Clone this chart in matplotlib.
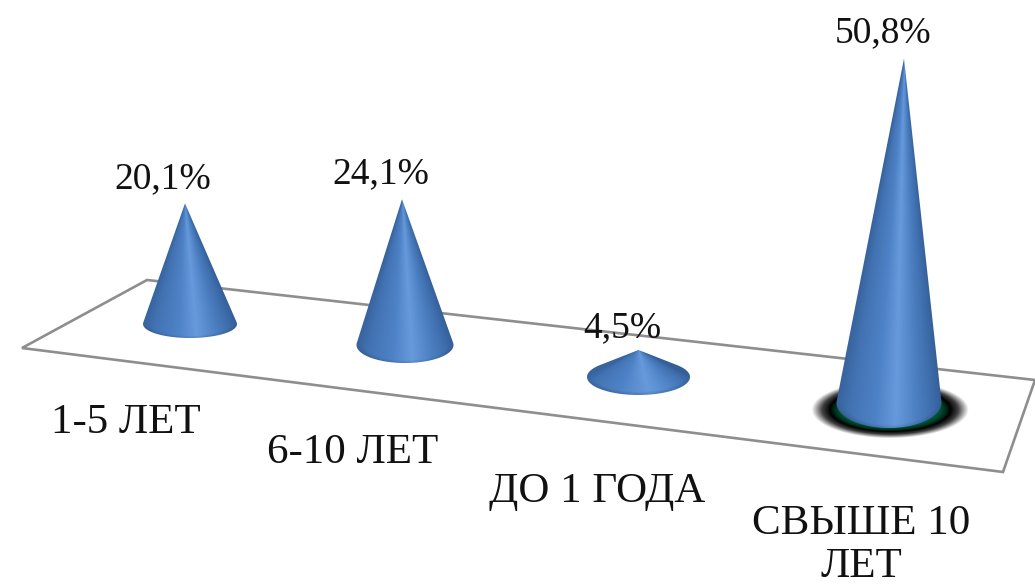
import matplotlib
matplotlib.use('Agg')
import matplotlib.pyplot as plt
from matplotlib.patches import Polygon, PathPatch
from matplotlib.path import Path
import numpy as np

plt.rcParams['font.family'] = ['Liberation Serif', 'DejaVu Serif']

# data
categories = ['1-5 ЛЕТ', '6-10 ЛЕТ', 'ДО 1 ГОДА', 'СВЫШЕ 10\nЛЕТ']
values = [20.1, 24.1, 4.5, 50.8]
value_labels = ['20,1%', '24,1%', '4,5%', '50,8%']

# layout in picture pixels
base_x = [190, 405, 638.5, 889]
base_y = [324, 345, 377, 403]
half_w = [47, 48.5, 51.5, 52.5]
half_h = [14, 18, 18, 25]
lean = [-5, -3, 0, 15]
px_per_unit = [6.0, 6.05, 6.0, 6.78]
label_xy = [(163, 179), (381, 174), (622, 328), (883, 33)]
cat_xy = [(126, 423), (353, 453), (597, 492), (861, 545)]
plane = [(147, 280), (22, 348), (1003, 472), (1035, 380)]

stops = [-1.0, -0.75, -0.25, 0.12, 0.5, 0.85, 1.0]
colors = np.array([[56, 100, 158], [66, 114, 178], [78, 130, 198], [102, 154, 220],
                   [76, 128, 194], [60, 106, 168], [52, 94, 150]]) / 255

fig = plt.figure(figsize=(10.35, 5.85), dpi=100)
ax = fig.add_axes([0, 0, 1, 1])
ax.axis('off')

ax.add_patch(Polygon(plane, closed=True, facecolor='white', edgecolor='#8e8e8e',
                     linewidth=1.9, zorder=1))


def draw_glow(cx, cy, a, b):
    xs = np.arange(cx - a * 1.2, cx + a * 1.2)
    ys = np.arange(cy - b * 1.2, cy + b * 1.2)
    X, Y = np.meshgrid(xs, ys)
    d = np.sqrt(((X - cx) / a) ** 2 + ((Y - cy) / b) ** 2)
    img = np.zeros(X.shape + (4,))
    img[..., 1] = np.interp(d, [0.66, 0.73, 0.8], [0.32, 0.2, 0])
    img[..., 2] = np.interp(d, [0.66, 0.73, 0.8], [0.2, 0.12, 0])
    img[..., 3] = np.interp(d, [0.8, 0.9, 1.04], [1, 0.75, 0])
    ax.imshow(img, extent=[xs[0], xs[-1], ys[-1], ys[0]], aspect='auto', zorder=2)


def draw_cone(cx, cy, a, b, ax_x, ax_y):
    # tangent points from the apex to the base ellipse
    u = (ax_x - cx) / a
    v = (ax_y - cy) / b
    r = np.hypot(u, v)
    mid = np.arctan2(v, u)
    off = np.arccos(1 / r)
    t = np.linspace(mid + off, mid + 2 * np.pi - off, 80)
    outline = [(ax_x, ax_y)] + list(zip(cx + a * np.cos(t), cy + b * np.sin(t)))
    outline.append((ax_x, ax_y))

    xs = np.arange(cx - a - 2, cx + a + 2, 0.5)
    ys = np.arange(ax_y - 2, cy + b + 2, 0.5)
    X, Y = np.meshgrid(xs, ys)
    frac = np.clip((Y - ax_y) / (cy - ax_y), 0.001, None)
    axis_x = ax_x + (cx - ax_x) * frac
    tt = np.clip((X - axis_x) / (a * frac), -1, 1)
    img = np.stack([np.interp(tt, stops, colors[:, k]) for k in range(3)], axis=-1)
    # slightly darker along the front rim of the base
    ell = np.sqrt(((X - cx) / a) ** 2 + ((Y - cy) / b) ** 2)
    rim = 1 - 0.14 * np.clip((ell - 0.85) / 0.15, 0, 1) * np.clip((Y - cy) / b * 2, 0, 1)
    img = img * rim[..., None]

    im = ax.imshow(img, extent=[xs[0], xs[-1], ys[-1], ys[0]], aspect='auto', zorder=3)
    clip = PathPatch(Path(outline), transform=ax.transData, facecolor='none', edgecolor='none')
    ax.add_patch(clip)
    im.set_clip_path(clip)


draw_glow(890, 410, 76, 28)

for i, val in enumerate(values):
    apex_y = base_y[i] - val * px_per_unit[i]
    draw_cone(base_x[i], base_y[i], half_w[i], half_h[i], base_x[i] + lean[i], apex_y)
    ax.text(*label_xy[i], value_labels[i], fontsize=27, ha='center', va='center',
            color='#111111', zorder=5)
    ax.text(*cat_xy[i], categories[i], fontsize=31, ha='center', va='center',
            color='#111111', linespacing=1.15, zorder=5)

ax.set_xlim(0, 1035)
ax.set_ylim(585, 0)

fig.savefig('out.png', dpi=100)
